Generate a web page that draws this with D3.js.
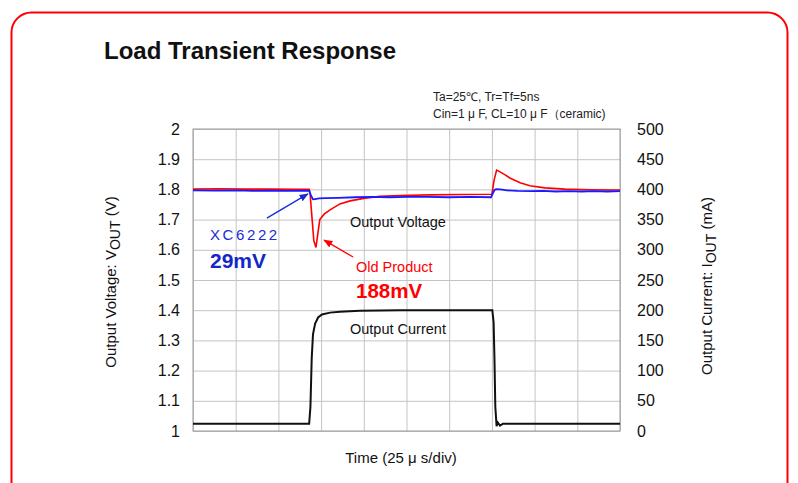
<!DOCTYPE html>
<html>
<head>
<meta charset="utf-8">
<script src="https://cdn.jsdelivr.net/npm/d3@7"></script>
<style>
  body { margin: 0; background: #fff; }
  svg { display: block; font-family: "Liberation Sans", Arial, sans-serif; }
</style>
</head>
<body>
<div id="chart"></div>
<script>
// time in divisions (25 us/div), voltage in V, current in mA
const voltTicks = [1, 1.1, 1.2, 1.3, 1.4, 1.5, 1.6, 1.7, 1.8, 1.9, 2];
const currTicks = [0, 50, 100, 150, 200, 250, 300, 350, 400, 450, 500];

const xcTime = [0, 0.5, 1.0, 1.4, 1.8, 2.2, 2.6, 2.72, 2.76, 2.81, 2.86, 2.95, 3.1, 3.4, 3.8, 4.2, 4.6, 5.0, 5.5, 6.0, 6.5, 6.98, 7.02, 7.06, 7.1, 7.2, 7.35, 7.6, 7.9, 8.2, 8.5, 8.8, 9.1, 9.4, 9.7, 10];
const xcVolt = [1.797, 1.796, 1.797, 1.795, 1.796, 1.795, 1.796, 1.795, 1.781, 1.767, 1.768, 1.770, 1.771, 1.772, 1.774, 1.775, 1.774, 1.775, 1.775, 1.774, 1.775, 1.774, 1.786, 1.798, 1.801, 1.800, 1.797, 1.795, 1.794, 1.795, 1.793, 1.794, 1.793, 1.794, 1.793, 1.794];

const oldTime = [0, 0.6, 1.2, 1.8, 2.4, 2.72, 2.74, 2.79, 2.83, 2.88, 2.93, 2.97, 3.07, 3.21, 3.44, 3.68, 4.03, 4.38, 4.85, 5.55, 6.3, 7.0, 7.05, 7.11, 7.19, 7.31, 7.42, 7.66, 7.89, 8.24, 8.71, 9.3, 10];
const oldVolt = [1.801, 1.802, 1.801, 1.801, 1.800, 1.800, 1.790, 1.700, 1.630, 1.608, 1.660, 1.700, 1.718, 1.732, 1.752, 1.762, 1.771, 1.777, 1.780, 1.782, 1.783, 1.784, 1.830, 1.864, 1.858, 1.848, 1.838, 1.822, 1.812, 1.805, 1.801, 1.799, 1.798];

const curTime = [0, 2.72, 2.75, 2.78, 2.81, 2.86, 2.93, 3.02, 3.21, 3.44, 3.91, 4.85, 7.01, 7.04, 7.06, 7.08, 7.11, 7.14, 7.19, 7.26, 10];
const curVal = [12, 12, 40, 120, 160, 178, 188, 193, 196, 197.5, 199, 200, 200, 180, 120, 40, 8, 14, 9, 12, 12];

const size = { x: 798, y: 483 };
const margin = { top: 129, bottom: 52, left: 193, right: 178 };
const inner = { x: size.x - margin.left - margin.right, y: size.y - margin.top - margin.bottom };

const xScale = d3.scaleLinear().domain([0, 10]).range([margin.left, margin.left + inner.x]);
const yVolt = d3.scaleLinear().domain([1, 2]).range([margin.top + inner.y, margin.top]);
const yCurr = d3.scaleLinear().domain([0, 500]).range([margin.top + inner.y, margin.top]);

const svg = d3.select("#chart")
  .append("svg")
  .attr("width", size.x)
  .attr("height", size.y);

// red frame
svg.append("rect")
  .attr("x", 11.5).attr("y", 12.5)
  .attr("width", 776).attr("height", 500)
  .attr("rx", 20)
  .attr("fill", "none")
  .attr("stroke", "#ff0000")
  .attr("stroke-width", 2);

svg.append("text")
  .text("Load Transient Response")
  .attr("x", 104).attr("y", 59)
  .attr("font-size", "24px")
  .attr("font-weight", "bold")
  .attr("fill", "#111");

svg.append("text")
  .text("Ta=25℃,  Tr=Tf=5ns")
  .attr("x", 433).attr("y", 101)
  .attr("font-size", "12px")
  .attr("fill", "#222");
svg.append("text")
  .text("Cin=1 μ F,  CL=10 μ F（ceramic)")
  .attr("x", 433).attr("y", 118)
  .attr("font-size", "12px")
  .attr("fill", "#222");

// grid
svg.append("g")
  .attr("transform", `translate(0,${margin.top + inner.y})`)
  .call(d3.axisBottom(xScale).ticks(10).tickSize(-inner.y).tickFormat(""))
  .call(g => g.select(".domain").remove())
  .call(g => g.selectAll("line").attr("stroke", "#c4c4c4"));

svg.append("g")
  .attr("transform", `translate(${margin.left},0)`)
  .call(d3.axisLeft(yVolt).tickValues(voltTicks).tickSize(-inner.x).tickFormat(""))
  .call(g => g.select(".domain").remove())
  .call(g => g.selectAll("line").attr("stroke", "#c4c4c4"));

svg.append("rect")
  .attr("x", margin.left).attr("y", margin.top)
  .attr("width", inner.x).attr("height", inner.y)
  .attr("fill", "none")
  .attr("stroke", "#9a9a9a");

// tick labels
svg.append("g")
  .attr("transform", `translate(${margin.left - 10},0)`)
  .call(d3.axisLeft(yVolt).tickValues(voltTicks).tickSize(0).tickFormat(d3.format("")))
  .call(g => g.select(".domain").remove())
  .call(g => g.selectAll("text").attr("font-size", "16px").attr("fill", "#111").attr("font-family", "Liberation Sans, Arial, sans-serif"));

svg.append("g")
  .attr("transform", `translate(${margin.left + inner.x + 14},0)`)
  .call(d3.axisRight(yCurr).tickValues(currTicks).tickSize(0))
  .call(g => g.select(".domain").remove())
  .call(g => g.selectAll("text").attr("font-size", "16px").attr("fill", "#111").attr("font-family", "Liberation Sans, Arial, sans-serif"));

// axis titles
const leftTitle = svg.append("text")
  .attr("transform", `translate(116,${margin.top + inner.y / 2 + 2}) rotate(-90)`)
  .attr("text-anchor", "middle")
  .attr("font-size", "15px")
  .attr("fill", "#111");
leftTitle.append("tspan").text("Output Voltage: V");
leftTitle.append("tspan").text("OUT").attr("dy", 4).attr("font-size", "14px");
leftTitle.append("tspan").text(" (V)").attr("dy", -4);

const rightTitle = svg.append("text")
  .attr("transform", `translate(712,${margin.top + inner.y / 2 + 6}) rotate(-90)`)
  .attr("text-anchor", "middle")
  .attr("font-size", "15px")
  .attr("fill", "#111");
rightTitle.append("tspan").text("Output Current: I");
rightTitle.append("tspan").text("OUT").attr("dy", 4).attr("font-size", "14px");
rightTitle.append("tspan").text(" (mA)").attr("dy", -4);

svg.append("text")
  .text("Time (25 μ s/div)")
  .attr("x", 401).attr("y", 463)
  .attr("text-anchor", "middle")
  .attr("font-size", "15px")
  .attr("fill", "#111");

// series
const voltLine = d3.line().x(d => xScale(d[0])).y(d => yVolt(d[1]));
const currLine = d3.line().x(d => xScale(d[0])).y(d => yCurr(d[1]));

svg.append("path")
  .datum(curTime.map((t, i) => [t, curVal[i]]))
  .attr("d", currLine)
  .attr("fill", "none")
  .attr("stroke", "#111")
  .attr("stroke-width", 2);

svg.append("path")
  .datum(oldTime.map((t, i) => [t, oldVolt[i]]))
  .attr("d", voltLine)
  .attr("fill", "none")
  .attr("stroke", "#ff0000")
  .attr("stroke-width", 1.6);

svg.append("path")
  .datum(xcTime.map((t, i) => [t, xcVolt[i]]))
  .attr("d", voltLine)
  .attr("fill", "none")
  .attr("stroke", "#1a1aff")
  .attr("stroke-width", 1.8);

// annotations
const defs = svg.append("defs");
[["arrowBlue", "#1a2bd6"], ["arrowRed", "#ff0000"]].forEach(([id, c]) => {
  defs.append("marker")
    .attr("id", id)
    .attr("viewBox", "0 0 10 10")
    .attr("refX", 9).attr("refY", 5)
    .attr("markerWidth", 7).attr("markerHeight", 7)
    .attr("orient", "auto")
    .append("path")
    .attr("d", "M0,1 L10,5 L0,9 Z")
    .attr("fill", c);
});

svg.append("line")
  .attr("x1", xScale(1.73)).attr("y1", yVolt(1.705))
  .attr("x2", xScale(2.69)).attr("y2", yVolt(1.785))
  .attr("stroke", "#1a2bd6")
  .attr("stroke-width", 1.3)
  .attr("marker-end", "url(#arrowBlue)");

svg.append("line")
  .attr("x1", xScale(3.75)).attr("y1", yVolt(1.576))
  .attr("x2", xScale(3.07)).attr("y2", yVolt(1.632))
  .attr("stroke", "#ff0000")
  .attr("stroke-width", 1.3)
  .attr("marker-end", "url(#arrowRed)");

svg.append("text")
  .text("XC6222")
  .attr("x", 210).attr("y", 240)
  .attr("font-size", "15px")
  .attr("letter-spacing", "2.6px")
  .attr("fill", "#1a2bd6");
svg.append("text")
  .text("29mV")
  .attr("x", 210).attr("y", 268)
  .attr("font-size", "21px")
  .attr("font-weight", "bold")
  .attr("fill", "#1428c8");

svg.append("text")
  .text("Output Voltage")
  .attr("x", 350).attr("y", 227)
  .attr("font-size", "14.5px")
  .attr("fill", "#111");

svg.append("text")
  .text("Old Product")
  .attr("x", 356).attr("y", 272)
  .attr("font-size", "14.5px")
  .attr("fill", "#ff0000");
svg.append("text")
  .text("188mV")
  .attr("x", 356).attr("y", 298)
  .attr("font-size", "20.5px")
  .attr("font-weight", "bold")
  .attr("fill", "#ff0000");

svg.append("text")
  .text("Output Current")
  .attr("x", 350).attr("y", 334)
  .attr("font-size", "14.5px")
  .attr("fill", "#111");
</script>
</body>
</html>
